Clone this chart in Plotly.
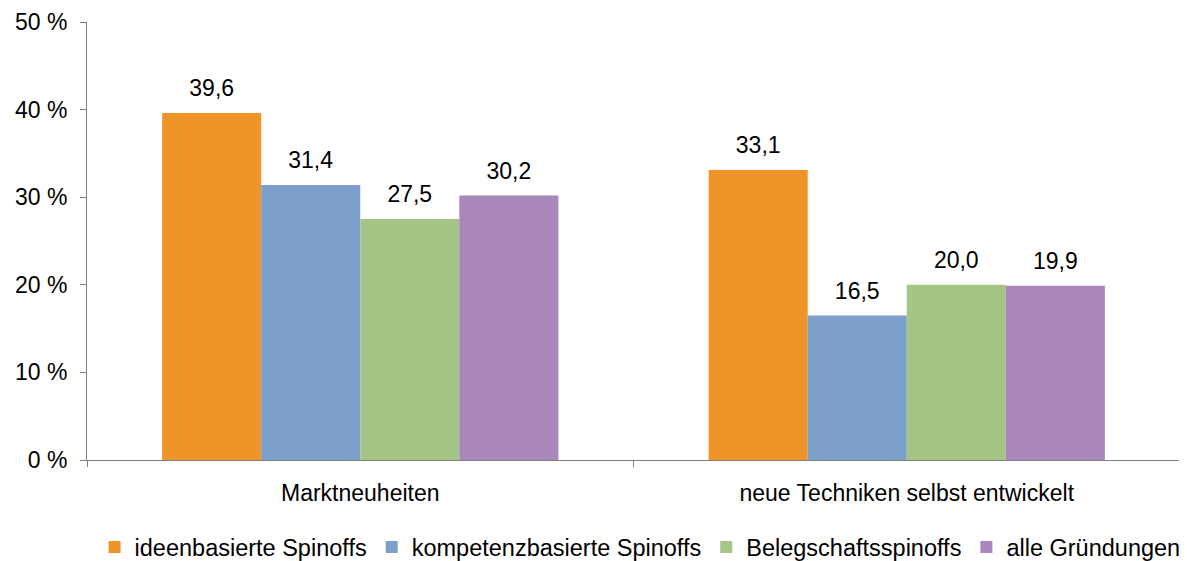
import plotly.graph_objects as go

categories = ["Marktneuheiten", "neue Techniken selbst entwickelt"]
series_names = ["ideenbasierte Spinoffs", "kompetenzbasierte Spinoffs",
                "Belegschaftsspinoffs", "alle Gründungen"]
ideen = [39.6, 33.1]
kompetenz = [31.4, 16.5]
belegschaft = [27.5, 20.0]
alle = [30.2, 19.9]
y_ticks = [0, 10, 20, 30, 40, 50]
y_labels = [f"{t} %" for t in y_ticks]

colors = ["#EE9428", "#7C9FCC", "#A5C586", "#A986BC"]
font = "Liberation Sans, Arial, sans-serif"
fs = 23

fig = go.Figure()
for name, vals, col in zip(series_names, [ideen, kompetenz, belegschaft, alle], colors):
    # small second line lifts the value label a bit above the bar
    labels = [f"<span style='font-size:{fs}px'>{v:.1f}</span><br> ".replace(".", ",")
              for v in vals]
    fig.add_trace(go.Bar(
        x=categories, y=vals, name=name,
        marker=dict(color=col, line=dict(width=0)),
        text=labels, textposition="outside", cliponaxis=False,
        textfont=dict(size=9, color="#000000", family=font),
    ))

# page body has an 8px margin, so the figure is a bit smaller than the window
fig.update_layout(
    width=1179, height=553,
    margin=dict(l=79, r=7, t=14, b=101),
    plot_bgcolor="white", paper_bgcolor="white",
    barmode="group", bargap=0.275, bargroupgap=0,
    font=dict(family=font, size=fs, color="#000000"),
    showlegend=True,
    legend=dict(orientation="h", x=0.506, xanchor="center",
                yref="container", y=0.025, yanchor="middle",
                font=dict(size=23.5), itemwidth=30, traceorder="normal"),
    xaxis=dict(showline=True, linecolor="#808080", linewidth=1, automargin=False,
               ticks="outside", tickson="boundaries", ticklen=6, tickcolor="#808080",
               ticklabelstandoff=12, tickfont=dict(size=fs)),
    yaxis=dict(range=[0, 50], tickvals=y_ticks, ticktext=y_labels, automargin=False,
               showline=True, linecolor="#808080", linewidth=1,
               ticks="outside", ticklen=6, tickcolor="#808080",
               ticklabelstandoff=8, ticklabeloverflow="allow",
               showgrid=False, zeroline=False, tickfont=dict(size=fs)),
)

fig.write_html("out.html")
